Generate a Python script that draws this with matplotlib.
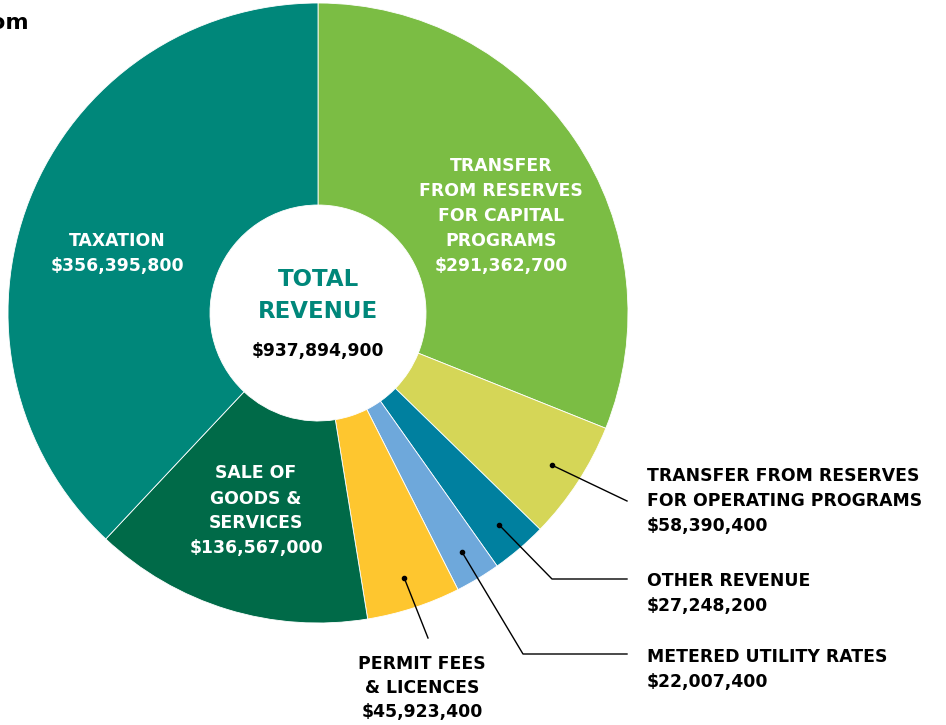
import matplotlib
matplotlib.use("Agg")
import matplotlib.pyplot as plt
import numpy as np

categories = [
    "TRANSFER\nFROM RESERVES\nFOR CAPITAL\nPROGRAMS",
    "TRANSFER FROM RESERVES\nFOR OPERATING PROGRAMS",
    "OTHER REVENUE",
    "METERED UTILITY RATES",
    "PERMIT FEES\n& LICENCES",
    "SALE OF\nGOODS &\nSERVICES",
    "TAXATION",
]
values = [291362700, 58390400, 27248200, 22007400, 45923400, 136567000, 356395800]
colors = ["#7BBD44", "#D5D657", "#00809F", "#6EA8DB", "#FEC62F", "#006A48", "#00877A"]
total_label = "$937,894,900"

W, H = 946, 725
fig = plt.figure(figsize=(W / 100, H / 100), dpi=100)
ax = fig.add_axes([0, 0, 1, 1])

FONT = ["DejaVu Sans"]
FS = 12.4
LS = 1.5
cx, cy = 318, H - 313
R = 310
r_in = 108

wedges, _ = ax.pie(values, colors=colors, startangle=90, counterclock=False,
                   radius=R, center=(cx, cy),
                   wedgeprops=dict(width=R - r_in, edgecolor="white", linewidth=0.6),
                   frame=True)
ax.set_xlim(0, W)
ax.set_ylim(0, H)
ax.set_aspect("equal")
ax.axis("off")


def money(v):
    return "${:,}".format(v)


def mid_angle(w):
    return np.deg2rad((w.theta1 + w.theta2) / 2)


# inside labels (white)
inside = {0: (501, 216), 5: (256, 511), 6: (117, 253)}
for i, (x, y) in inside.items():
    ax.text(x, H - y, categories[i] + "\n" + money(values[i]), ha="center", va="center",
            color="white", fontsize=FS, fontweight="bold", family=FONT, linespacing=LS)

# center text
ax.text(cx, H - 279, "TOTAL", ha="center", va="center", color="#00877A",
        fontsize=16.5, fontweight="bold", family=FONT)
ax.text(cx, H - 311, "REVENUE", ha="center", va="center", color="#00877A",
        fontsize=16.5, fontweight="bold", family=FONT)
ax.text(cx, H - 351, total_label, ha="center", va="center", color="black",
        fontsize=12.3, fontweight="bold", family=FONT)


def dot(i, frac=0.9):
    a = mid_angle(wedges[i])
    return cx + R * frac * np.cos(a), cy + R * frac * np.sin(a)

lw = 1.0
# operating
x0, y0 = dot(1)
ax.plot([x0, 627], [y0, H - 501], color="black", lw=lw)
ax.plot(x0, y0, "o", color="black", ms=3)
ax.text(647, H - 501, categories[1] + "\n" + money(values[1]), ha="left", va="center",
        color="black", fontsize=FS, fontweight="bold", family=FONT, linespacing=LS)
# other revenue
x0, y0 = dot(2)
ax.plot([x0, 552, 627], [y0, H - 579, H - 579], color="black", lw=lw)
ax.plot(x0, y0, "o", color="black", ms=3)
ax.text(647, H - 593, categories[2] + "\n" + money(values[2]), ha="left", va="center",
        color="black", fontsize=FS, fontweight="bold", family=FONT, linespacing=LS)
# metered
x0, y0 = dot(3)
ax.plot([x0, 523, 627], [y0, H - 654, H - 654], color="black", lw=lw)
ax.plot(x0, y0, "o", color="black", ms=3)
ax.text(647, H - 670, categories[3] + "\n" + money(values[3]), ha="left", va="center",
        color="black", fontsize=FS, fontweight="bold", family=FONT, linespacing=LS)
# permit
x0, y0 = dot(4)
ax.plot([x0, 428], [y0, H - 638], color="black", lw=lw)
ax.plot(x0, y0, "o", color="black", ms=3)
ax.text(422, H - 688, categories[4] + "\n" + money(values[4]), ha="center", va="center",
        color="black", fontsize=FS, fontweight="bold", family=FONT, linespacing=1.42)

# cut-off title fragment (the reference shows only the end of a title)
ax.text(29, H - 29, "om", ha="right", va="baseline", color="black",
        fontsize=16, fontweight="bold", family=FONT)

fig.savefig("out.png", dpi=100)
